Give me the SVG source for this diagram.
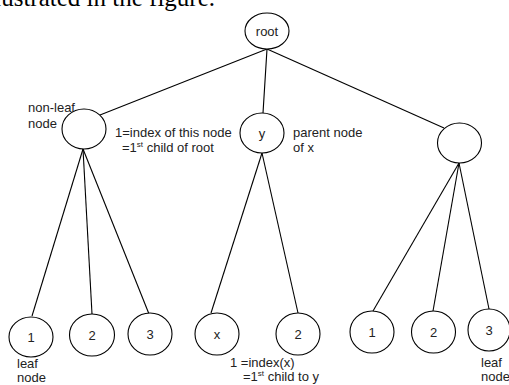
<svg xmlns="http://www.w3.org/2000/svg" width="509" height="385" viewBox="0 0 509 385">
<style>
.n{fill:#fff;stroke:#000;stroke-width:1.1}
.e{stroke:#000;stroke-width:1.1;fill:none}
.t{font-family:"Liberation Sans",Arial,sans-serif;font-size:13px;fill:#222}
.c{text-anchor:middle}
.h{font-family:"Liberation Serif","Times New Roman",serif;font-size:25px;fill:#000}
</style>
<rect width="509" height="385" fill="#fff"/>
<text class="h" x="215" y="6" text-anchor="end">illustrated in the figure.</text>
<g id="connectors">
<line class="e" x1="267" y1="49" x2="100" y2="115"/>
<line class="e" x1="267" y1="49" x2="263" y2="113"/>
<line class="e" x1="267" y1="49" x2="444" y2="128"/>
<line class="e" x1="83" y1="149" x2="32" y2="316"/>
<line class="e" x1="83" y1="149" x2="92" y2="314"/>
<line class="e" x1="83" y1="149" x2="149" y2="314"/>
<line class="e" x1="262" y1="153" x2="211" y2="313"/>
<line class="e" x1="262" y1="153" x2="298" y2="313"/>
<line class="e" x1="459" y1="163" x2="373" y2="311"/>
<line class="e" x1="459" y1="163" x2="433" y2="311"/>
<line class="e" x1="459" y1="163" x2="489" y2="309"/>
</g>
<g id="root"><ellipse class="n" cx="267" cy="31" rx="22" ry="18"/><text class="t c" x="267" y="36">root</text></g>
<g id="n1"><ellipse class="n" cx="84" cy="129" rx="22" ry="20"/></g>
<g id="y"><ellipse class="n" cx="262" cy="133" rx="22" ry="20"/><text class="t c" x="262" y="138">y</text></g>
<g id="n3"><ellipse class="n" cx="459.5" cy="143" rx="22" ry="20"/></g>
<g id="l1"><ellipse class="n" cx="31" cy="337" rx="22" ry="20"/><text class="t c" x="31" y="342">1</text></g>
<g id="l2"><ellipse class="n" cx="92" cy="335" rx="22.5" ry="21"/><text class="t c" x="92" y="340">2</text></g>
<g id="l3"><ellipse class="n" cx="150" cy="334" rx="22" ry="21"/><text class="t c" x="150" y="339">3</text></g>
<g id="x"><ellipse class="n" cx="217" cy="334" rx="22" ry="21"/><text class="t c" x="217" y="339">x</text></g>
<g id="x2"><ellipse class="n" cx="298" cy="334" rx="22" ry="21"/><text class="t c" x="298" y="339">2</text></g>
<g id="r1"><ellipse class="n" cx="372" cy="332" rx="22" ry="21"/><text class="t c" x="372" y="337">1</text></g>
<g id="r2"><ellipse class="n" cx="433.5" cy="332" rx="22" ry="21"/><text class="t c" x="433.5" y="337">2</text></g>
<g id="r3"><ellipse class="n" cx="489" cy="330" rx="21" ry="21"/><text class="t c" x="489" y="335">3</text></g>
<g id="labels">
<text class="t" x="28" y="112">non-leaf</text>
<text class="t" x="28" y="128">node</text>
<text class="t" x="115" y="137">1=index of this node</text>
<text class="t" x="122" y="152">=1<tspan font-size="8" dy="-5">st</tspan><tspan dy="5"> child of root</tspan></text>
<text class="t" x="293" y="137">parent node</text>
<text class="t" x="293" y="152">of x</text>
<text class="t" x="17" y="368">leaf</text>
<text class="t" x="17" y="382">node</text>
<text class="t" x="230" y="367">1 =index(x)</text>
<text class="t" x="243" y="381">=1<tspan font-size="8" dy="-5">st</tspan><tspan dy="5"> child to y</tspan></text>
<text class="t" x="481" y="367">leaf</text>
<text class="t" x="481" y="381">node</text>
</g>
</svg>
